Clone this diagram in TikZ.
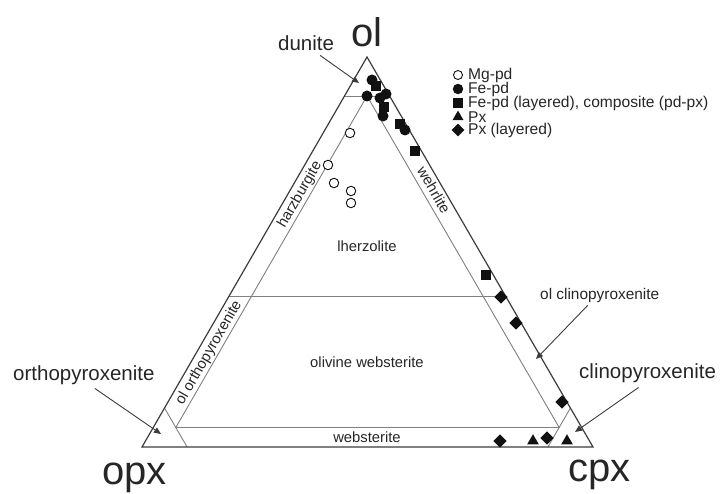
\documentclass[tikz,border=0pt]{standalone}
\usepackage{fontspec}
\setmainfont{Liberation Sans}
\usepackage{tikz}
\usetikzlibrary{positioning,arrows.meta,calc,shapes.geometric}
\definecolor{edge}{HTML}{3C3C3C}
\definecolor{fld}{HTML}{808080}
\definecolor{ink}{HTML}{262626}
\definecolor{mark}{HTML}{111111}
\tikzset{
  side/.style={draw=edge, line width=1.2pt, line join=miter},
  sub/.style={draw=fld, line width=0.9pt},
  arr/.style={-{Triangle[length=7pt,width=6pt]}, line width=0.9pt, color=edge},
  big/.style={font=\fontsize{40}{40}\selectfont, text=ink, inner sep=0pt},
  rock/.style={font=\fontsize{20.5}{22}\selectfont, text=ink, inner sep=0pt},
  small/.style={font=\fontsize{15.4}{17}\selectfont, text=ink, inner sep=0pt},
  fieldname/.style={font=\fontsize{14.8}{16}\selectfont, text=ink, inner sep=0pt},
  leg/.style={font=\fontsize{15.6}{16}\selectfont, text=ink, inner sep=0pt, anchor=west},
  mg/.style={circle, draw=mark, line width=0.9pt, fill=white, minimum size=9.5pt, inner sep=0pt},
  fe/.style={circle, fill=mark, minimum size=11pt, inner sep=0pt},
  fel/.style={rectangle, fill=mark, minimum size=10pt, inner sep=0pt},
  px/.style={regular polygon, regular polygon sides=3, fill=mark, minimum size=13.5pt, inner sep=0pt},
  pxl/.style={diamond, fill=mark, minimum size=13.5pt, inner sep=0pt},
}
\begin{document}
\begin{tikzpicture}[x=1pt,y=-1pt]
  \useasboundingbox (0,0) rectangle (721,494);
  % corners of the triangle
  \coordinate (ol)  at (367,57);
  \coordinate (opx) at (142,447);
  \coordinate (cpx) at (593,447);
  \coordinate (d)   at (367,96);
  \coordinate (w1)  at (175.8,427.5);
  \coordinate (w2)  at (559.2,427.5);

  % field boundaries
  \draw[sub] ($(ol)!0.1!(opx)$) -- ($(ol)!0.1!(cpx)$);
  \draw[sub] ($(ol)!0.615!(opx)$) -- ($(ol)!0.615!(cpx)$);
  \draw[sub] (d) -- (w1) -- (w2) -- (d);
  \draw[sub] ($(ol)!0.9!(opx)$) -- ($(opx)!0.1!(cpx)$);
  \draw[sub] ($(ol)!0.9!(cpx)$) -- ($(cpx)!0.1!(opx)$);
  \draw[side] (ol) -- (opx) -- (cpx) -- cycle;

  % samples
  \foreach \p [count=\i] in {(350,133),(328,165),(334,183),(351,191),(351,203)}
    \node[mg] (mg\i) at \p {};
  \foreach \p [count=\i] in {(372,80),(367,96),(380,98),(386,94),(383,116),(405,130)}
    \node[fe] (fe\i) at \p {};
  \foreach \p [count=\i] in {(376,86),(384,107),(400,124),(415,151),(486,275)}
    \node[fel] (fel\i) at \p {};
  \foreach \p [count=\i] in {(533,441),(567,441)}
    \node[px] (px\i) at \p {};
  \foreach \p [count=\i] in {(501,297),(516,323),(562,402),(500,441),(547,438)}
    \node[pxl] (pxl\i) at \p {};

  % legend
  \foreach \s/\t/\y [count=\i] in {mg/Mg-pd/75, fe/Fe-pd/89,
      fel/{Fe-pd (layered), composite (pd-px)}/103, px/Px/117, pxl/Px (layered)/130}{
    \node[\s, scale=0.95] (key\i) at (458,\y) {};
    \node[leg, right=10pt of key\i.center] (txt\i) {\t};
  }

  % end members
  \node[big, anchor=base west] (olL)  at (351,47)  {ol};
  \node[big, anchor=base west] (opxL) at (102,485) {opx};
  \node[big, anchor=base west] (cpxL) at (568,482) {cpx};

  % rock names
  \node[fieldname, anchor=base] (lhz) at (367,252) {lherzolite};
  \node[fieldname, anchor=base] (owb) at (367,368) {olivine websterite};
  \node[fieldname, anchor=base] (wbs) at (367,443) {websterite};
  \node[fieldname, rotate=60]  (hzb) at (300,195) {harzburgite};
  \node[fieldname, rotate=60]  (oop) at (209,353) {ol orthopyroxenite};
  \node[fieldname, rotate=-60] (whr) at (434,190) {wehrlite};

  \node[rock, anchor=base west] (dun) at (278,51)  {dunite};
  \node[rock, anchor=base west] (orp) at (13,381)  {orthopyroxenite};
  \node[rock, anchor=base west] (clp) at (579,379) {clinopyroxenite};
  \node[small, anchor=base west] (ocp) at (540,300) {ol clinopyroxenite};

  \coordinate (dunT) at (359,83);
  \coordinate (orpT) at (161,434);
  \coordinate (ocpT) at (536,359);
  \coordinate (clpT) at (575,432);
  \draw[arr] ([xshift=14pt,yshift=-4pt]dun.south) -- (dunT);
  \draw[arr] ([xshift=11pt,yshift=-3pt]orp.south) -- (orpT);
  \draw[arr] ([xshift=-12pt,yshift=-2pt]ocp.south) -- (ocpT);
  \draw[arr] ([xshift=-9pt,yshift=-4pt]clp.south) -- (clpT);
\end{tikzpicture}
\end{document}
